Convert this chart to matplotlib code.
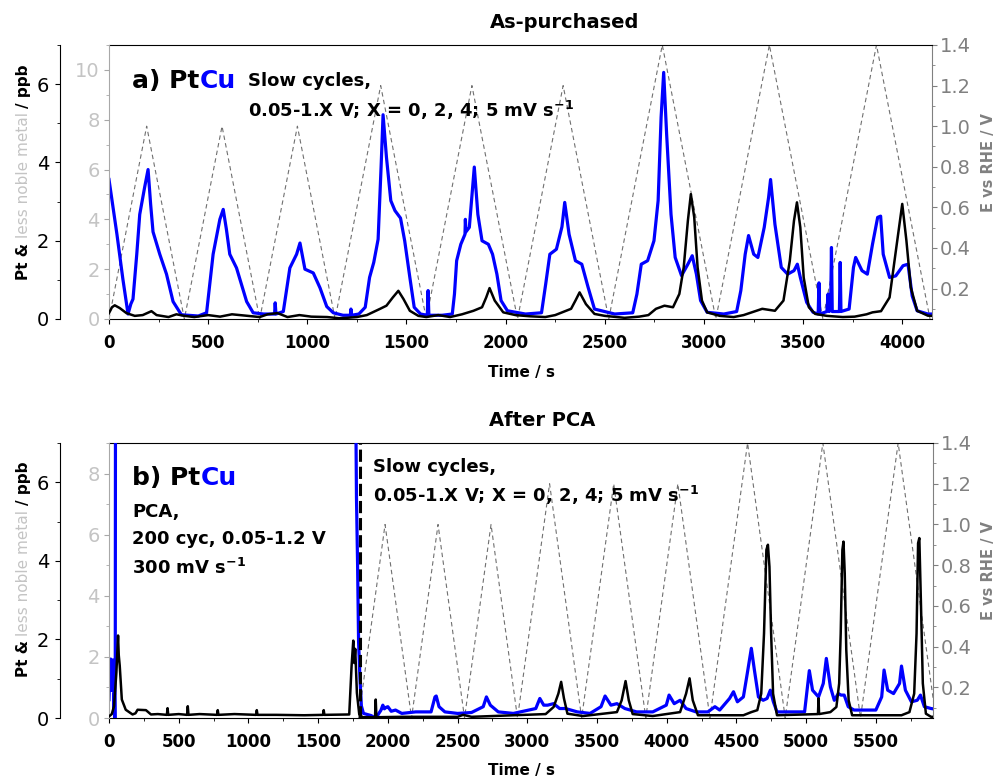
import matplotlib
matplotlib.use('Agg')
import matplotlib.pyplot as plt

W, H = 999, 778

# potential programme: vertices of the slow triangular sweeps (5 mV/s)
e_a_t = [0, 190, 380, 570, 760, 950, 1140, 1370, 1600, 1830, 2060, 2290, 2520, 2790, 3060, 3330, 3600, 3870, 4140]
e_a_v = [0.05, 1.0, 0.05, 1.0, 0.05, 1.0, 0.05, 1.2, 0.05, 1.2, 0.05, 1.2, 0.05, 1.4, 0.05, 1.4, 0.05, 1.4, 0.05]
e_b_t = [1790, 1980, 2170, 2360, 2550, 2740, 2930, 3160, 3390, 3620, 3850, 4080, 4310, 4580, 4850, 5120, 5390, 5660, 5930]
e_b_v = e_a_v

# a) as-purchased, Cu signal (ppb)
cu_a_t = [0, 40, 70, 96, 110, 121, 140, 155, 180, 197, 210, 222, 256, 290, 323, 365, 400, 450,
          492, 525, 559, 576, 592, 609, 643, 694, 727, 780, 835, 838, 842, 879, 912, 946, 963,
          988, 1030, 1064, 1098, 1131, 1180, 1217, 1220, 1223, 1260, 1292, 1314, 1335, 1357,
          1372, 1382, 1399, 1421, 1442, 1470, 1491, 1517, 1539, 1571, 1605, 1609, 1613, 1680,
          1731, 1742, 1753, 1774, 1795, 1797, 1800, 1817, 1834, 1842, 1860, 1881, 1913, 1934,
          1956, 1977, 2009, 2100, 2181, 2202, 2223, 2256, 2284, 2298, 2320, 2352, 2384, 2416,
          2448, 2550, 2641, 2662, 2684, 2716, 2748, 2769, 2784, 2797, 2812, 2834, 2855, 2887,
          2919, 2941, 2962, 2983, 3016, 3100, 3165, 3186, 3208, 3225, 3251, 3272, 3304, 3326,
          3336, 3358, 3390, 3422, 3454, 3471, 3486, 3518, 3550, 3576, 3580, 3584, 3620, 3626,
          3632, 3639, 3643, 3647, 3683, 3687, 3691, 3732, 3754, 3765, 3797, 3824, 3850, 3876,
          3891, 3904, 3936, 3967, 4004, 4029, 4050, 4075, 4129, 4150]
cu_a_v = [5.6, 3.4, 1.6, 0.2, 0.6, 0.8, 2.6, 4.2, 5.3, 6.0, 4.6, 3.5, 2.6, 1.8, 0.7, 0.17, 0.15, 0.12,
          0.25, 2.6, 4.0, 4.4, 3.6, 2.6, 2.05, 0.7, 0.25, 0.2, 0.2, 0.65, 0.2, 0.3, 2.05, 2.6, 3.05,
          2.0, 1.85, 1.25, 0.5, 0.25, 0.15, 0.15, 0.4, 0.15, 0.2, 0.47, 1.67, 2.27,
          3.2, 6.1, 8.2, 6.5, 4.75, 4.35, 4.05, 3.14, 1.67, 0.47, 0.2, 0.15, 1.14, 0.15, 0.15,
          0.2, 1.0, 2.34, 3.0, 3.4, 4.0, 3.5, 3.68, 5.3, 6.1, 4.2, 3.14, 3.0, 2.6,
          1.8, 0.74, 0.33, 0.2, 0.25, 1.4, 2.6, 2.8, 3.7, 4.68, 3.4, 2.34, 2.2, 1.27,
          0.4, 0.2, 0.25, 1.0, 2.2, 2.34, 3.14, 4.75, 8.1, 9.9, 7.4, 4.2, 2.47, 1.74,
          2.2, 2.54, 1.8, 0.74, 0.27, 0.2, 0.3, 1.14, 2.6, 3.35, 2.6, 2.47, 3.68, 4.88,
          5.6, 3.8, 2.07, 1.8, 1.94, 2.2, 1.67, 0.67, 0.27, 0.2, 1.45, 0.2, 0.3, 1.0,
          0.3, 0.5, 2.87, 0.3, 0.3, 2.27, 0.3, 0.4, 2.07, 2.47, 1.94, 1.8, 3.0, 4.08,
          4.13, 2.6, 1.67, 1.73, 2.14, 2.2, 0.93, 0.33, 0.2, 0.2]

# a) as-purchased, Pt signal (ppb)
pt_a_t = [0, 15, 29, 54, 88, 130, 170, 214, 240, 300, 340, 380, 430, 500, 560, 620, 700, 760,
          800, 850, 900, 960, 1020, 1100, 1160, 1200, 1250, 1300, 1367, 1399, 1431, 1459, 1485,
          1517, 1560, 1600, 1660, 1720, 1780, 1838, 1881, 1902, 1919, 1945, 1988, 2050, 2120,
          2200, 2250, 2330, 2352, 2373, 2405, 2448, 2500, 2560, 2600, 2673, 2720, 2758, 2801,
          2844, 2876, 2898, 2919, 2934, 2951, 2968, 2990, 3016, 3080, 3150, 3200, 3294, 3358,
          3401, 3433, 3454, 3469, 3486, 3503, 3529, 3561, 3620, 3700, 3760, 3820, 3850, 3893,
          3936, 3968, 4000, 4021, 4043, 4075, 4129, 4150]
pt_a_v = [0.15, 0.3, 0.35, 0.28, 0.15, 0.08, 0.1, 0.2, 0.1, 0.05, 0.12, 0.08, 0.05, 0.1, 0.06, 0.12, 0.08, 0.05,
          0.12, 0.15, 0.05, 0.1, 0.06, 0.05, 0.02, 0.03, 0.05, 0.1, 0.26, 0.34, 0.55, 0.72, 0.51,
          0.21, 0.08, 0.05, 0.1, 0.05, 0.12, 0.21, 0.3, 0.55, 0.79, 0.47, 0.17, 0.1, 0.07,
          0.05, 0.1, 0.26, 0.47, 0.68, 0.38, 0.13, 0.08, 0.05, 0.03, 0.06, 0.1, 0.26, 0.34,
          0.3, 0.64, 1.32, 2.51, 3.19, 2.6, 1.32, 0.47, 0.17, 0.08, 0.05, 0.1, 0.26, 0.21,
          0.47, 1.49, 2.51, 2.98, 2.34, 1.06, 0.3, 0.13, 0.08, 0.05, 0.06, 0.12, 0.17, 0.2,
          0.55, 1.75, 2.94, 2.0, 0.81, 0.21, 0.085, 0.08]

# b) after PCA, Cu signal (ppb); off-scale during the fast cycling
cu_b_t = [0, 8, 12, 18, 24, 28, 31, 36, 39, 42, 45, 50, 1765, 1771, 1775, 1783, 1790, 1800, 1810,
          1825, 1880, 1910, 1928, 1950, 1964, 1975, 1988, 2000, 2024, 2055, 2100, 2200, 2310,
          2338, 2347, 2367, 2409, 2500, 2600, 2684, 2707, 2735, 2792, 2900, 3061, 3090, 3118,
          3146, 3189, 3232, 3274, 3359, 3450, 3529, 3558, 3600, 3643, 3700, 3784, 3900, 3997,
          4017, 4054, 4096, 4139, 4210, 4295, 4346, 4380, 4451, 4479, 4507, 4550, 4578, 4607,
          4629, 4658, 4692, 4720, 4743, 4765, 4791, 4900, 4989, 5004, 5023, 5046, 5089, 5123,
          5145, 5174, 5202, 5231, 5250, 5273, 5302, 5344, 5500, 5542, 5559, 5585, 5627, 5670,
          5684, 5712, 5755, 5797, 5820, 5848, 5896, 5910]
cu_b_v = [0.6, 1.9, 1.93, 0.9, 1.05, 1.9, 1.8, 0.3, 0.8, 0.0, 2.0, 30, 30, 9.5, 7.2, 5.0, 2.5, 1.3, 0.4,
          0.15, 0.08, 0.0, 0.1, 0.25, 0.42, 0.3, 0.35, 0.37, 0.22, 0.26, 0.15, 0.2, 0.2,
          0.69, 0.72, 0.37, 0.2, 0.15, 0.18, 0.37, 0.69, 0.42, 0.2, 0.15, 0.31, 0.64, 0.42,
          0.42, 0.47, 0.31, 0.31, 0.2, 0.15, 0.37, 0.72, 0.42, 0.47, 0.31, 0.2, 0.2, 0.42,
          0.75, 0.47, 0.58, 0.31, 0.2, 0.2, 0.37, 0.26, 0.64, 0.86, 0.53, 0.69, 1.46, 2.28,
          1.57, 0.69, 0.58, 0.64, 0.91, 0.53, 0.2, 0.2, 0.2, 0.8, 1.55, 0.91, 0.69, 1.13,
          1.95, 1.02, 0.58, 0.8, 0.75, 0.75, 0.37, 0.26, 0.26, 0.69, 1.57, 0.91, 0.8, 1.13,
          1.7, 0.91, 0.53, 0.58, 0.75, 0.37, 0.31, 0.3]

# b) after PCA, Pt signal (ppb)
pt_b_t = [0, 20, 36, 53, 65, 70, 77, 92, 120, 169, 190, 205, 265, 301, 350, 415, 420, 425, 500,
          560, 565, 570, 650, 775, 780, 785, 900, 1055, 1060, 1065, 1200, 1400, 1535, 1540, 1545,
          1723, 1740, 1752, 1759, 1766, 1778, 1795, 1819, 1908, 1913, 1918, 2100, 2500, 2540,
          2600, 3132, 3189, 3223, 3243, 3263, 3288, 3400, 3643, 3677, 3705, 3728, 3756, 3900,
          4096, 4139, 4164, 4187, 4224, 4550, 4607, 4650, 4678, 4698, 4715, 4726, 4737, 4749,
          4763, 4791, 5085, 5089, 5093, 5174, 5217, 5237, 5248, 5260, 5268, 5277, 5288, 5305,
          5330, 5684, 5741, 5775, 5792, 5803, 5812, 5823, 5837, 5859, 5896, 5910]
pt_b_v = [0.04, 0.1, 0.3, 1.16, 2.1, 1.6, 1.33, 0.47, 0.21, 0.09, 0.12, 0.21, 0.2, 0.09, 0.1, 0.08, 0.25, 0.08, 0.1,
          0.08, 0.3, 0.08, 0.1, 0.08, 0.2, 0.08, 0.1, 0.08, 0.2, 0.08, 0.08, 0.07, 0.08, 0.2, 0.08,
          0.09, 1.33, 1.97, 1.4, 1.76, 0.64, 0.09, 0.02, 0.02, 0.47, 0.02, 0.03, 0.03, 0.08,
          0.03, 0.1, 0.28, 0.62, 0.92, 0.5, 0.11, 0.05, 0.15, 0.45, 0.94, 0.45, 0.1, 0.05,
          0.15, 0.62, 1.01, 0.45, 0.07, 0.07, 0.15, 0.2, 0.62, 2.15, 4.28, 4.41, 3.85, 2.15,
          0.62, 0.07, 0.1, 0.5, 0.1, 0.15, 0.28, 0.88, 2.15, 4.28, 4.49, 3.68, 1.73, 0.45,
          0.07, 0.07, 0.15, 0.62, 2.15, 4.45, 4.58, 3.0, 0.88, 0.11, 0.03, 0.03]

GRAY_E = '#808080'
GRAY_CU = '#c4c4c4'

fig = plt.figure(figsize=(W / 100, H / 100), dpi=100)
renderer = fig.canvas.get_renderer()


def fx(x):
    return x / W


def fy(y):
    return 1 - y / H


def panel(left, top, right, bottom, tmax, cu_max, et, ev, cut, cuv, ptt, ptv):
    ax_e = fig.add_axes([fx(left), fy(bottom), (right - left) / W, (bottom - top) / H])
    ax_cu = ax_e.twinx()
    ax_pt = ax_e.twinx()

    ax_e.plot(et, ev, color='#707070', lw=0.8, ls=(0, (4, 3)))
    ax_cu.plot(cut, cuv, color='#0000ff', lw=2.3, solid_joinstyle='round')
    ax_pt.plot(ptt, ptv, color='k', lw=1.8, solid_joinstyle='round')

    ax_e.set_xlim(0, tmax)
    ax_e.set_ylim(0.05, 1.4)
    ax_cu.set_ylim(0, cu_max)
    ax_pt.set_ylim(0, 7)

    ax_e.yaxis.tick_right()
    ax_cu.yaxis.tick_left()
    ax_pt.yaxis.tick_left()

    for a in (ax_cu, ax_pt):
        for s in ('top', 'bottom', 'right'):
            a.spines[s].set_visible(False)
    ax_e.spines['left'].set_visible(False)
    ax_e.spines['right'].set_color(GRAY_E)
    ax_cu.spines['left'].set_color('#a8a8a8')
    ax_pt.spines['left'].set_position(('outward', 35.3))
    ax_pt.spines['left'].set_color('k')

    # time axis
    xt = list(range(0, int(tmax) + 1, 500))
    ax_e.set_xticks(xt)
    ax_e.set_xticklabels([str(v) for v in xt], fontweight='bold')
    ax_e.set_xticks(list(range(250, int(tmax) + 1, 500)), minor=True)
    ax_e.tick_params(axis='x', which='major', direction='out', length=3.6, labelsize=12, pad=7)
    ax_e.tick_params(axis='x', which='minor', direction='out', length=2.5)

    # potential axis
    ax_e.set_yticks([0.2, 0.4, 0.6, 0.8, 1.0, 1.2, 1.4])
    ax_e.set_yticklabels(['0.2', '0.4', '0.6', '0.8', '1.0', '1.2', '1.4'])
    ax_e.set_yticks([0.1, 0.3, 0.5, 0.7, 0.9, 1.1, 1.3], minor=True)
    ax_e.tick_params(axis='y', which='both', direction='out', colors=GRAY_E, labelsize=14, pad=2)
    ax_e.tick_params(axis='y', which='major', length=3.6)
    ax_e.tick_params(axis='y', which='minor', length=2.2)

    # less noble metal axis
    ax_cu.set_yticks(list(range(0, cu_max, 2)))
    ax_cu.set_yticks(list(range(1, cu_max + 1, 2)), minor=True)
    ax_cu.tick_params(axis='y', which='both', direction='out', colors='#a8a8a8',
                      labelcolor=GRAY_CU, labelsize=14, pad=3)
    ax_cu.tick_params(axis='y', which='major', length=3.6)
    ax_cu.tick_params(axis='y', which='minor', length=2.2)

    # Pt axis
    ax_pt.set_yticks([0, 2, 4, 6])
    ax_pt.set_yticks([1, 3, 5, 7], minor=True)
    ax_pt.tick_params(axis='y', which='both', direction='out', colors='k', labelsize=14, pad=4)
    ax_pt.tick_params(axis='y', which='major', length=3.6)
    ax_pt.tick_params(axis='y', which='minor', length=2.2)
    return ax_e, ax_cu, ax_pt


def left_label(y0):
    y = fy(y0)
    parts = [('Pt &', 'k', 'bold'), ('less noble metal', GRAY_CU, 'normal'), ('/ ppb', 'k', 'bold')]
    for text, color, weight in parts:
        t = fig.text(fx(28), y, text, rotation=90, rotation_mode='anchor', ha='left',
                     va='baseline', color=color, fontsize=11, fontweight=weight)
        bb = t.get_window_extent(renderer)
        y = bb.y1 / fig.bbox.height + 4.5 / H


def pt_cu(x, y, prefix):
    t = fig.text(fx(x), fy(y), prefix + 'Pt', fontsize=18, fontweight='bold', va='baseline')
    bb = t.get_window_extent(renderer)
    fig.text(bb.x1 / fig.bbox.width, fy(y), 'Cu', fontsize=18, fontweight='bold',
             va='baseline', color='#0000ff')


def note(x, y, text):
    fig.text(fx(x), fy(y), text, fontsize=13, fontweight='bold', va='baseline')


sweep = r'0.05-1.X V; X = 0, 2, 4; 5 mV s$^{\mathbf{-1}}$'

# a) as-purchased
panel(109, 45, 932, 319, 4150, 11, e_a_t, e_a_v, cu_a_t, cu_a_v, pt_a_t, pt_a_v)
fig.text(fx(565), fy(23), 'As-purchased', fontsize=14, fontweight='bold', ha='center', va='center')
fig.text(fx(521), fy(373), 'Time / s', fontsize=11, fontweight='bold', ha='center', va='center')
fig.text(fx(989), fy(163), 'E vs RHE / V', fontsize=10.5, fontweight='bold', color=GRAY_E,
         rotation=90, ha='center', va='center')
left_label(280)
pt_cu(132, 88, 'a) ')
note(248, 86, 'Slow cycles,')
note(248, 117, sweep)

# b) after PCA
ax_e, ax_cu, ax_pt = panel(109, 443, 933, 718, 5910, 9, e_b_t, e_b_v, cu_b_t, cu_b_v, pt_b_t, pt_b_v)
ax_pt.axvline(1800, color='k', lw=2.2, ls=(0, (4, 1.6)))
fig.text(fx(542), fy(420), 'After PCA', fontsize=14, fontweight='bold', ha='center', va='center')
fig.text(fx(521), fy(771), 'Time / s', fontsize=11, fontweight='bold', ha='center', va='center')
fig.text(fx(989), fy(570), 'E vs RHE / V', fontsize=10.5, fontweight='bold', color=GRAY_E,
         rotation=90, ha='center', va='center')
left_label(677)
pt_cu(132, 485, 'b) ')
note(132, 517, 'PCA,')
note(132, 544, '200 cyc, 0.05-1.2 V')
note(132, 574, r'300 mV s$^{\mathbf{-1}}$')
note(373, 472, 'Slow cycles,')
note(373, 502, sweep)

fig.savefig('out.png', dpi=100)
